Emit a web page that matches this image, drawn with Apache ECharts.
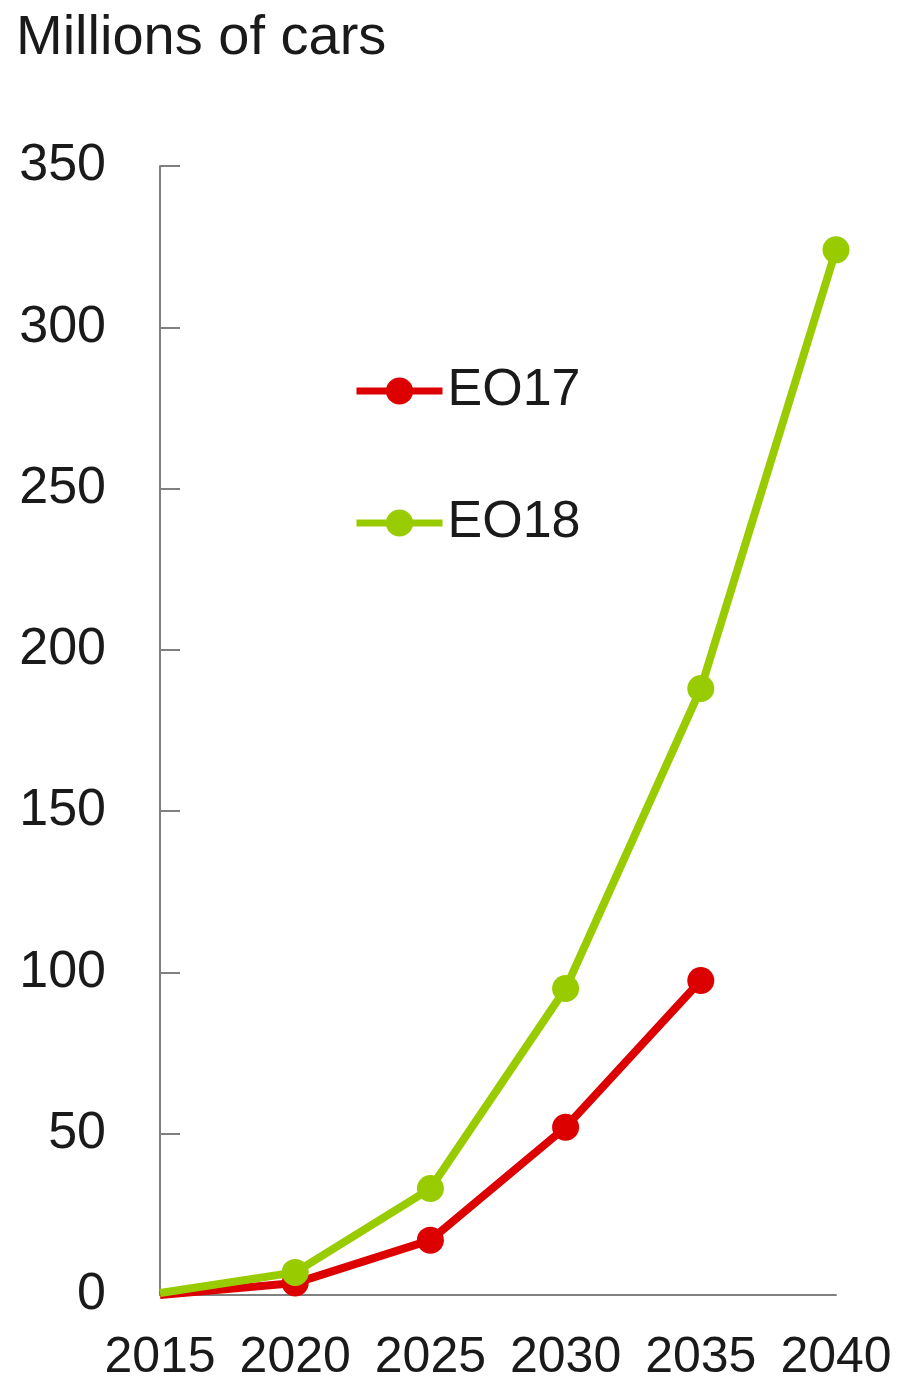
<!DOCTYPE html>
<html>
<head>
<meta charset="utf-8">
<title>Millions of cars</title>
<script src="https://cdn.jsdelivr.net/npm/echarts@6/dist/echarts.min.js"></script>
<style>
  html, body { margin: 0; padding: 0; background: #fff; }
  #chart { width: 909px; height: 1380px; }
</style>
</head>
<body>
<div id="chart"></div>
<script>
// data
const years = ['2015', '2020', '2025', '2030', '2035', '2040']
const eo17 = [0, 3.7, 17, 52, 97.5]
const eo18 = [0.6, 7, 33, 95, 188, 324]
const yTicks = [0, 350, 50] // min, max, step

const textColor = '#1a1a1a'
const axisColor = '#808080'
const font = 'Liberation Sans'

// no marker on the first point
const withFirstHidden = arr => arr.map((v, i) => i === 0 ? { value: v, symbol: 'none' } : v)

const chart = echarts.init(document.getElementById('chart'))
chart.setOption({
  animation: false,
  textStyle: { fontFamily: font },
  title: {
    text: 'Millions of cars',
    left: 11,
    top: 6,
    textStyle: { fontSize: 56, fontWeight: 'normal', color: textColor, fontFamily: font }
  },
  legend: {
    orient: 'vertical',
    left: 348,
    top: 360,
    itemGap: 80,
    itemWidth: 86,
    itemHeight: 34,
    lineStyle: { width: 7 },
    textStyle: { fontSize: 52, color: textColor, fontFamily: font, padding: [0, 0, 0, 0] },
    data: ['EO17', 'EO18']
  },
  grid: { left: 160, right: 73, top: 166, bottom: 85, containLabel: false, outerBoundsMode: 'none' },
  xAxis: {
    type: 'category',
    data: years,
    boundaryGap: false,
    axisLine: { lineStyle: { color: axisColor, width: 2 } },
    axisTick: { show: false },
    axisLabel: { interval: 0, fontSize: 50, color: textColor, margin: 38, fontFamily: font }
  },
  yAxis: {
    type: 'value',
    min: yTicks[0],
    max: yTicks[1],
    interval: yTicks[2],
    axisLine: { show: true, lineStyle: { color: axisColor, width: 2 } },
    axisTick: { show: true, inside: true, length: 20, lineStyle: { color: axisColor, width: 2 } },
    splitLine: { show: false },
    axisLabel: { fontSize: 52, color: textColor, margin: 54, fontFamily: font }
  },
  series: [
    {
      name: 'EO17',
      type: 'line',
      data: withFirstHidden(eo17),
      symbol: 'circle',
      symbolSize: 27,
      lineStyle: { color: '#dd0000', width: 8 },
      itemStyle: { color: '#dd0000' }
    },
    {
      name: 'EO18',
      type: 'line',
      data: withFirstHidden(eo18),
      symbol: 'circle',
      symbolSize: 27,
      lineStyle: { color: '#99cc00', width: 8 },
      itemStyle: { color: '#99cc00' }
    }
  ]
})
</script>
</body>
</html>
